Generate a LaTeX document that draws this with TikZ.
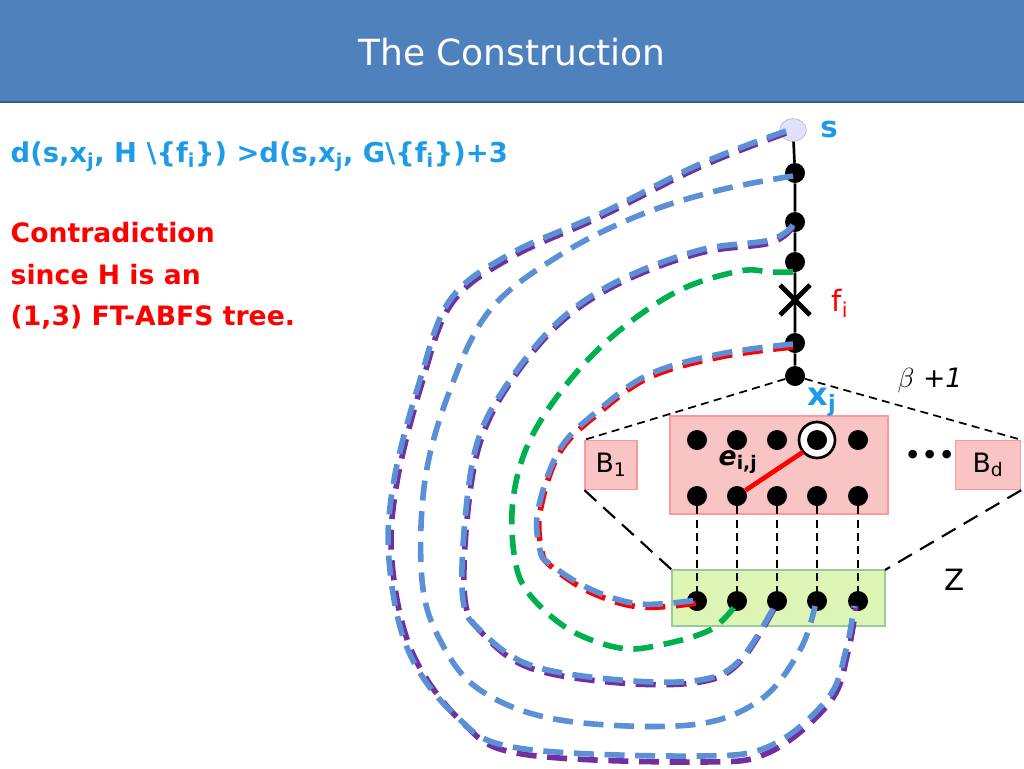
\documentclass[tikz,border=0pt]{standalone}
\usepackage{fontspec}
\setmainfont{DejaVu Sans}
\usetikzlibrary{shapes.geometric,calc}
\definecolor{titleblue}{HTML}{4F81BD}
\definecolor{pblue}{HTML}{5B8FD6}
\definecolor{ppurple}{HTML}{7030A0}
\definecolor{pgreen}{HTML}{00B050}
\definecolor{txtblue}{HTML}{1E9BE8}
\definecolor{pinkfill}{HTML}{F9C4C4}
\definecolor{greenfill}{HTML}{DDF5B5}
\tikzset{
  dot/.style={circle,fill=black,inner sep=0pt,minimum size=15pt},
  path/.style={line width=4.2pt,dash pattern=on 15pt off 8pt,line cap=butt},
  thin dash/.style={black,line width=1.3pt,dash pattern=on 6pt off 4pt},
  boxpink/.style={draw=red!40,fill=pinkfill,line width=0.8pt},
  boxgreen/.style={draw=green!50!black!40,fill=greenfill,line width=0.8pt},
}
\begin{document}
\begin{tikzpicture}[x=0.75pt,y=-0.75pt]
\useasboundingbox (0,0) rectangle (1024,768);
\fill[white] (0,0) rectangle (1024,768);
% title
\fill[titleblue] (0,0) rectangle (1024,102);
\draw[titleblue!70!black,line width=1.5pt] (0,102) -- (1024,102);
\node[text=white,font=\fontsize{27}{32}\selectfont] (title) at (512,52) {The Construction};
% left texts
\node[anchor=west,text=txtblue,font=\bfseries\fontsize{20.5}{24}\selectfont] (eq) at (6,157)
  {d(s,x\textsubscript{j}, H \textbackslash\{f\textsubscript{i}\}) >d(s,x\textsubscript{j}, G\textbackslash\{f\textsubscript{i}\})+3};
\node[anchor=north west,text=red,align=left,font=\bfseries\fontsize{20}{31}\selectfont] (contra) at (6,218)
  {Contradiction\\since H is an\\(1,3) FT-ABFS tree.};
% boxes
\draw[boxpink] (670,416) rectangle (888,514);
\node[boxpink,minimum width=39pt,minimum height=37pt,font=\fontsize{20}{24}\selectfont] (b1) at (611,465) {B\textsubscript{1}};
\node[boxpink,minimum width=49pt,minimum height=37pt,font=\fontsize{20}{24}\selectfont] (bd) at (988,465) {B\textsubscript{d}};
\draw[boxgreen] (672,570) rectangle (885,626);
% tree nodes
\node[ellipse,draw=gray!60,fill=blue!12,minimum width=20pt,minimum height=17pt,inner sep=0pt] (s) at (793,130) {};
\node[dot] (t1) at (795,173) {};
\node[dot] (t2) at (795,222) {};
\node[dot] (t3) at (795,262) {};
\coordinate (f) at (795,300);
\node[dot] (t4) at (795,343) {};
\node[dot] (xj) at (795,376) {};
\draw[line width=2pt] (s) -- (t1) -- (t2) -- (t3) -- (t4) -- (xj);
\draw[line width=3.5pt] (780,285) -- (810,315) (810,285) -- (780,315);
% labels
\node[text=txtblue,font=\bfseries\fontsize{22}{26}\selectfont] (sl) at (829,129) {s};
\node[text=red,font=\fontsize{22}{26}\selectfont] (fl) at (840,303) {f\textsubscript{i}};
\node[text=txtblue,font=\bfseries\fontsize{24}{28}\selectfont] (xl) at (822,402) {x\textsubscript{j}};
\node[font=\itshape\fontsize{20}{24}\selectfont] (beta) at (930,380) {$\beta$ +1};
\node[font=\fontsize{22}{24}\selectfont] (zl) at (955,580) {Z};
\node[font=\bfseries\fontsize{20}{24}\selectfont] (el) at (738,462) {\textit{e}\textsubscript{i,j}};
\node[font=\fontsize{22}{24}\selectfont] (dots) at (930,458) {•••};
% box dots
\foreach \i/\x in {1/697,2/737,3/777,4/817,5/858} {
  \node[dot] (u\i) at (\x,440) {};
  \node[dot] (l\i) at (\x,496) {};
  \node[dot] (z\i) at (\x,601) {};
  \draw[thin dash] (l\i) -- (z\i);
}
\draw[black,line width=2pt,fill=white] (u4) circle (13.5pt);
\node[dot] at (u4) {};
\draw[red,line width=3.5pt] (l2) -- ($(u4)+(-14,12)$);
% dashed cone lines
\draw[thin dash] (xj) -- (b1.north west);
\draw[thin dash] (xj) -- (bd.north east);
\draw[thin dash,line width=1.6pt,dash pattern=on 12pt off 7pt] (b1.south west) -- (672,570);
\draw[thin dash,line width=1.6pt,dash pattern=on 12pt off 7pt] (bd.south east) -- (885,570);
% paths
\draw[path,ppurple] plot[smooth,tension=0.6] coordinates {(786,133) (700,167) (600,217) (512,257) (452,303) (422,383) (397,482) (392,562) (412,652) (462,722) (522,754) (700,762) (770,752) (830,702) (848,652) (856,606)};
\draw[path,pblue] plot[smooth,tension=0.6] coordinates {(786,131) (700,164) (600,214) (510,254) (450,300) (420,380) (394,480) (389,560) (408,650) (456,716) (518,748) (700,756) (772,745) (828,698) (846,650) (854,606)};
\draw[path,pblue] plot[smooth,tension=0.6] coordinates {(793,176) (720,190) (640,215) (560,255) (490,310) (450,390) (425,480) (422,580) (440,640) (480,690) (560,720) (690,725) (760,700) (800,650) (815,606)};
\draw[path,ppurple] plot[smooth,tension=0.6] coordinates {(793,227) (770,243) (700,253) (620,283) (560,323) (510,383) (480,443) (467,520) (465,600) (482,633) (530,668) (620,683) (700,682) (740,662) (775,607)};
\draw[path,pblue] plot[smooth,tension=0.6] coordinates {(793,225) (770,240) (700,250) (620,280) (560,320) (510,380) (478,440) (465,520) (463,600) (480,630) (530,665) (620,680) (700,680) (740,660) (775,605)};
\draw[path,pgreen] plot[smooth,tension=0.6] coordinates {(793,272) (770,272) (740,271) (680,290) (620,330) (570,380) (530,440) (513,500) (515,560) (530,595) (570,630) (620,648) (660,645) (710,630) (735,606)};
\draw[path,red] plot[smooth,tension=0.6] coordinates {(793,347) (720,357) (650,377) (600,412) (560,452) (540,512) (542,552) (552,567) (590,592) (640,607) (697,603)};
\draw[path,pblue] plot[smooth,tension=0.6] coordinates {(793,344) (720,354) (650,374) (600,409) (560,449) (538,510) (540,550) (550,564) (590,589) (640,604) (697,600)};
\end{tikzpicture}
\end{document}
